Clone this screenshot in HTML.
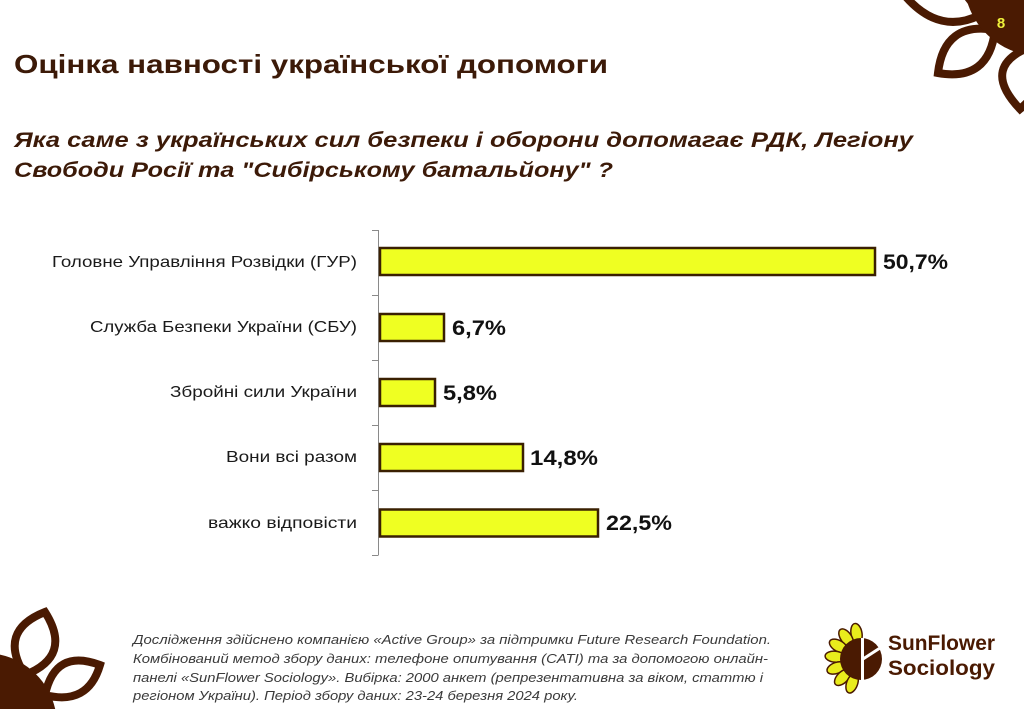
<!DOCTYPE html>
<html><head><meta charset="utf-8"><style>
html,body{margin:0;padding:0;background:#fff;width:1024px;height:709px;overflow:hidden;}
svg{display:block;}
</style></head><body>
<svg width="1024" height="709" viewBox="0 0 1024 709" xmlns="http://www.w3.org/2000/svg">
<rect width="1024" height="709" fill="#fff"/>
<!-- top-right flower -->
<g fill="#fff" stroke="#4a1a02" stroke-width="8">
<path d="M980,15 Q930,40 890,-25 Q945,-45 980,15 Z"/>
<path d="M995,30 Q989,82 938,73 Q944,21 995,30 Z"/>
<path d="M1035,45 Q1060,75 1020,109 Q978,65 1035,45 Z"/>
</g>
<path d="M966.7,0 A76,76 0 0 0 1024,54.3 L1024,0 Z" fill="#4a1a02"/>
<text x="1001" y="28" text-anchor="middle" font-family="Liberation Sans, sans-serif" font-weight="bold" font-size="15" fill="#eef03a">8</text>
<!-- bottom-left flower -->
<g fill="#fff" stroke="#4a1a02" stroke-width="8">
<path d="M25,675 Q73,656 45,612 Q-3,631 25,675 Z"/>
<path d="M45,695 Q88,706 100,665 Q55,648 45,695 Z"/>
</g>
<path d="M0,654.6 A72,72 0 0 1 55.2,709 L0,709 Z" fill="#4a1a02"/>
<!-- titles -->
<text x="14" y="73" font-family="Liberation Sans, sans-serif" font-weight="bold" font-size="26" fill="#3c1a08" textLength="594" lengthAdjust="spacingAndGlyphs">Оцінка навності української допомоги</text>
<g font-family="Liberation Sans, sans-serif" font-weight="bold" font-style="italic" font-size="21" fill="#3c1a08">
<text x="14" y="147" textLength="899" lengthAdjust="spacingAndGlyphs">Яка саме з українських сил безпеки і оборони допомагає РДК, Легіону</text>
<text x="14" y="177" textLength="599" lengthAdjust="spacingAndGlyphs">Свободи Росії та "Сибірському батальйону" ?</text>
</g>
<!-- axis -->
<g stroke="#8a8a8a" stroke-width="1">
<line x1="378.5" y1="230" x2="378.5" y2="555"/>
<line x1="372" y1="230.5" x2="378.5" y2="230.5"/>
<line x1="372" y1="295.5" x2="378.5" y2="295.5"/>
<line x1="372" y1="360.5" x2="378.5" y2="360.5"/>
<line x1="372" y1="425.5" x2="378.5" y2="425.5"/>
<line x1="372" y1="490.5" x2="378.5" y2="490.5"/>
<line x1="372" y1="555.5" x2="378.5" y2="555.5"/>
</g>
<!-- bars -->
<g fill="#efff22" stroke="#3a2002" stroke-width="2.5">
<rect x="380" y="248" width="495" height="27"/>
<rect x="380" y="314" width="64" height="27"/>
<rect x="380" y="379" width="55" height="27"/>
<rect x="380" y="444" width="143" height="27"/>
<rect x="380" y="509.5" width="218" height="27"/>
</g>
<!-- category labels -->
<g font-family="Liberation Sans, sans-serif" font-size="16" fill="#1a1a1a" text-anchor="end">
<text x="357" y="267" textLength="305" lengthAdjust="spacingAndGlyphs">Головне Управління Розвідки (ГУР)</text>
<text x="357" y="332" textLength="267" lengthAdjust="spacingAndGlyphs">Служба Безпеки України (СБУ)</text>
<text x="357" y="397" textLength="187" lengthAdjust="spacingAndGlyphs">Збройні сили України</text>
<text x="357" y="462" textLength="131" lengthAdjust="spacingAndGlyphs">Вони всі разом</text>
<text x="357" y="528" textLength="149" lengthAdjust="spacingAndGlyphs">важко відповісти</text>
</g>
<!-- value labels -->
<g font-family="Liberation Sans, sans-serif" font-weight="bold" font-size="21" fill="#111">
<text x="883" y="269" textLength="65" lengthAdjust="spacingAndGlyphs">50,7%</text>
<text x="452" y="335" textLength="54" lengthAdjust="spacingAndGlyphs">6,7%</text>
<text x="443" y="400" textLength="54" lengthAdjust="spacingAndGlyphs">5,8%</text>
<text x="530" y="465" textLength="68" lengthAdjust="spacingAndGlyphs">14,8%</text>
<text x="606" y="530" textLength="66" lengthAdjust="spacingAndGlyphs">22,5%</text>
</g>
<!-- footnote -->
<g font-family="Liberation Sans, sans-serif" font-style="italic" font-size="13" fill="#3a3a3a">
<text x="133" y="644" textLength="638" lengthAdjust="spacingAndGlyphs">Дослідження здійснено компанією «Active Group» за підтримки Future Research Foundation.</text>
<text x="133" y="663" textLength="635" lengthAdjust="spacingAndGlyphs">Комбінований метод збору даних: телефоне опитування (CATI) та за допомогою онлайн-</text>
<text x="133" y="682" textLength="630" lengthAdjust="spacingAndGlyphs">панелі «SunFlower Sociology». Вибірка: 2000 анкет (репрезентативна за віком, статтю і</text>
<text x="133" y="700" textLength="445" lengthAdjust="spacingAndGlyphs">регіоном України). Період збору даних: 23-24 березня 2024 року.</text>
</g>
<!-- logo -->
<g fill="#e9ec1c" stroke="#4a1a02" stroke-width="1.5">
<ellipse transform="translate(856.5,633.4) rotate(-100)" rx="10" ry="5.5"/>
<ellipse transform="translate(846.1,637.7) rotate(-125)" rx="10" ry="5.5"/>
<ellipse transform="translate(838.5,646) rotate(-150)" rx="10" ry="5.5"/>
<ellipse transform="translate(835.1,656.7) rotate(-175)" rx="10" ry="5.5"/>
<ellipse transform="translate(836.6,667.9) rotate(-200)" rx="10" ry="5.5"/>
<ellipse transform="translate(842.6,677.4) rotate(-225)" rx="10" ry="5.5"/>
<ellipse transform="translate(852.1,683.4) rotate(-250)" rx="10" ry="5.5"/>
</g>
<circle cx="861" cy="659" r="21" fill="#4a1a02"/>
<line x1="862.5" y1="638" x2="862.5" y2="680" stroke="#fff" stroke-width="3"/>
<line x1="863" y1="659" x2="880" y2="648" stroke="#fff" stroke-width="3"/>
<g font-family="Liberation Sans, sans-serif" font-weight="bold" font-size="21" fill="#4a1a02">
<text x="888" y="650" textLength="107" lengthAdjust="spacingAndGlyphs">SunFlower</text>
<text x="888" y="675" textLength="107" lengthAdjust="spacingAndGlyphs">Sociology</text>
</g>
</svg>
</body></html>
